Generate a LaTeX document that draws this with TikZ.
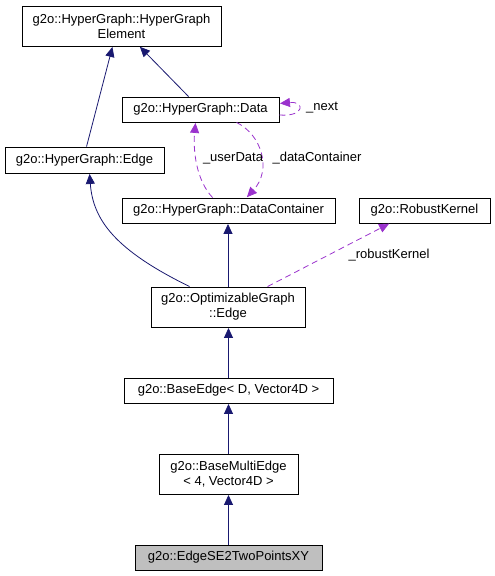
\documentclass[tikz,border=0pt]{standalone}
\usepackage{fontspec}
\setmainfont{Liberation Sans}
\usetikzlibrary{arrows.meta}
\definecolor{navy}{HTML}{191970}
\definecolor{orchid}{HTML}{9A32CD}
\definecolor{selgray}{HTML}{BFBFBF}
\begin{document}
\begin{tikzpicture}[x=1pt,y=-1pt,
  box/.style={draw=black, line width=0.9pt, fill=white, inner sep=0pt, align=center,
    font=\fontsize{13}{15}\selectfont},
  lbl/.style={inner sep=0pt, font=\fontsize{13}{15}\selectfont},
  inh/.style={draw=navy, line width=0.8pt, -{Triangle[length=10pt,width=9pt]}, shorten >=0.5pt},
  use/.style={draw=orchid, line width=0.8pt, dash pattern=on 6pt off 4pt, -{Triangle[length=10pt,width=9pt]}, shorten >=0.5pt},
]
\useasboundingbox (0,0) rectangle (495,576);
\node[box, minimum width=199pt, minimum height=40pt] (elem) at (121.5,26) {g2o::HyperGraph::HyperGraph\\Element};
\node[box, minimum width=157pt, minimum height=25pt] (data) at (200.5,109.5) {g2o::HyperGraph::Data};
\node[box, minimum width=159pt, minimum height=26pt] (hgedge) at (84.5,160) {g2o::HyperGraph::Edge};
\node[box, minimum width=213pt, minimum height=25pt] (dc) at (228.5,210.5) {g2o::HyperGraph::DataContainer};
\node[box, minimum width=131pt, minimum height=25pt] (rk) at (424.5,210.5) {g2o::RobustKernel};
\node[box, minimum width=154pt, minimum height=40pt] (opt) at (228,307) {g2o::OptimizableGraph\\::Edge};
\node[box, minimum width=209pt, minimum height=25pt] (be) at (228.5,390.5) {g2o::BaseEdge< D, Vector4D >};
\node[box, minimum width=139pt, minimum height=40pt] (bme) at (228.5,474) {g2o::BaseMultiEdge\\< 4, Vector4D >};
\node[box, fill=selgray, minimum width=187pt, minimum height=25pt] (se2) at (228.5,557.5) {g2o::EdgeSE2TwoPointsXY};

\path[inh] ([xshift=82pt]hgedge.north west) -- ([xshift=91pt]elem.south west);
\path[inh] ([xshift=67pt]data.north west) -- ([xshift=118pt]elem.south west);
\path[inh] ([xshift=39pt]opt.north west) .. controls (115,250) and (93,220) .. ([xshift=85pt]hgedge.south west);
\path[inh] (opt.north) -- (opt.north |- dc.south);
\path[inh] (be.north) -- (be.north |- opt.south);
\path[inh] (bme.north) -- (bme.north |- be.south);
\path[inh] (se2.north) -- (se2.north |- bme.south);

\path[use] ([xshift=117pt]opt.north west) -- ([xshift=31pt]rk.south west);
\path[use] ([xshift=91pt]dc.north west) .. controls (196,180) and (193,150) .. ([xshift=74pt]data.south west);
\path[use] ([xshift=115pt]data.south west) .. controls (262,135) and (272,170) .. ([xshift=125pt]dc.north west);
\path[use] ([yshift=-5.5pt]data.east) .. controls (305,117) and (305,101) .. ([yshift=6pt]data.east);

\node[lbl] (lnext) at (322,108) {\_next};
\node[lbl] (luser) at (233,158) {\_userData};
\node[lbl] (ldc) at (317,158) {\_dataContainer};
\node[lbl] (lrk) at (389,255) {\_robustKernel};
\end{tikzpicture}
\end{document}
